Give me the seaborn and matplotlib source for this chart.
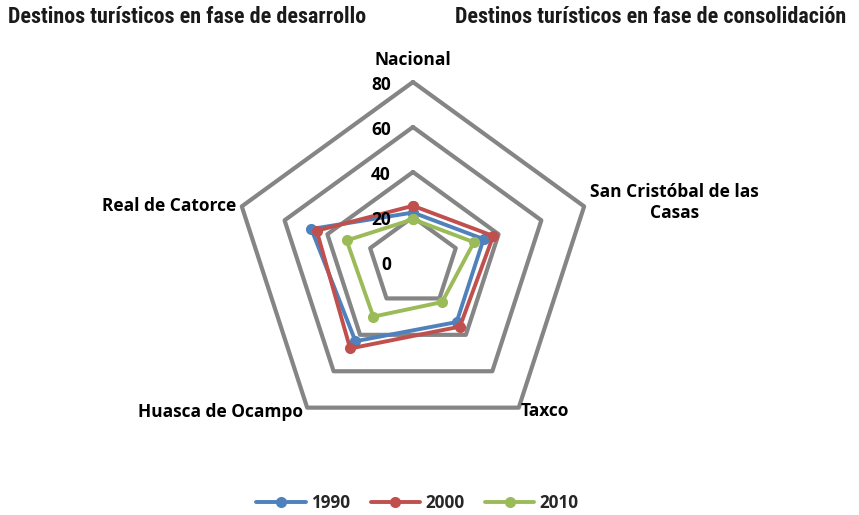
import numpy as np
import pandas as pd
import seaborn as sns
import matplotlib.pyplot as plt
from matplotlib import transforms, font_manager

# data
destinos = ['Nacional', 'San Cristóbal de las\nCasas', 'Taxco', 'Huasca de Ocampo', 'Real de Catorce']
years = ['1990', '2000', '2010']
v1990 = [22, 33, 33, 43.5, 47.5]
v2000 = [25, 37.5, 35.5, 47.5, 45]
v2010 = [19, 28.5, 22, 30, 31]
rings = [20, 40, 60, 80]
tick_labels = [0, 20, 40, 60, 80]
colors = {'1990': '#4F81BD', '2000': '#C0504D', '2010': '#9BBB59'}

n = len(destinos)
theta = np.linspace(0, 2 * np.pi, n, endpoint=False)
theta_closed = np.append(theta, 2 * np.pi)

rows = []
for yr, vals in zip(years, [v1990, v2000, v2010]):
    vals_closed = vals + vals[:1]
    for t, v in zip(theta_closed, vals_closed):
        rows.append({'theta': t, 'valor': v, 'year': yr})
df = pd.DataFrame(rows)

sns.set_theme(style='white')
plt.rcParams['font.family'] = ['Open Sans', 'DejaVu Sans']

# condensed face for the titles if one is installed
installed = {f.name for f in font_manager.fontManager.ttflist}
title_family = 'Liberation Sans'
title_size = 11.5
for cand in ['Liberation Sans Narrow', 'DejaVu Sans Condensed', 'Roboto Condensed']:
    if cand in installed:
        title_family = cand
        title_size = 15.8
        break

fig = plt.figure(figsize=(8.59, 5.15), dpi=100)
ax = fig.add_axes([0.2712, 0.1417, 0.4191, 0.699], projection='polar')
ax.set_theta_offset(np.pi / 2)
ax.set_theta_direction(-1)
ax.set_ylim(0, 80)

# pentagon grid
for r in rings:
    ax.plot(theta_closed, [r] * (n + 1), color='#858585', lw=3, clip_on=False, zorder=1)

sns.lineplot(data=df, x='theta', y='valor', hue='year', palette=colors, sort=False,
             estimator=None, marker='o', markersize=8, markeredgewidth=0, lw=2.8,
             ax=ax, zorder=3)

handles, labels = ax.get_legend_handles_labels()
if ax.get_legend() is not None:
    ax.get_legend().remove()

ax.set_axis_off()

# radial tick labels
for v in tick_labels:
    tr = transforms.offset_copy(ax.transData, fig=fig, x=-22, y=-3, units='dots')
    ax.text(0, v, str(v), transform=tr, ha='right', va='center',
            fontsize=12.5, fontweight='bold', color='black')

# category labels
offsets = [(0, 22, 'center'), (6, 4, 'left'), (2, -3, 'left'), (-4, -4, 'right'), (-6, 0, 'right')]
for t, lab, (dx, dy, ha) in zip(theta, destinos, offsets):
    tr = transforms.offset_copy(ax.transData, fig=fig, x=dx, y=dy, units='dots')
    ax.text(t, 80, lab, transform=tr, ha=ha, va='center', multialignment='center',
            fontsize=12.5, fontweight='bold', color='black', linespacing=1.25)

fig.legend(handles, labels, loc='center', bbox_to_anchor=(0.486, 0.023), ncol=3,
           frameon=False, prop={'weight': 'bold', 'size': 12.3},
           handlelength=2.9, handletextpad=0.3, columnspacing=1.2)

fig.text(0.0093, 0.967, 'Destinos turísticos en fase de desarrollo', ha='left', va='center',
         family=title_family, fontsize=title_size, fontweight='bold', color='#1a1a1a')
fig.text(0.53, 0.967, 'Destinos turísticos en fase de consolidación', ha='left', va='center',
         family=title_family, fontsize=title_size, fontweight='bold', color='#1a1a1a')

fig.savefig('out.png', dpi=100)
